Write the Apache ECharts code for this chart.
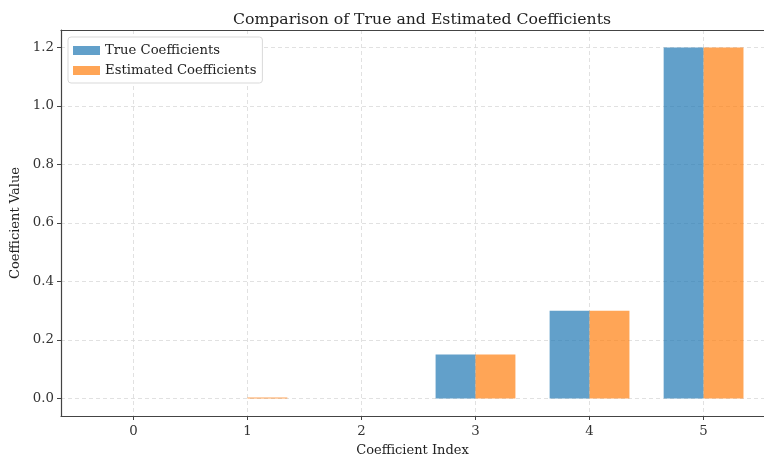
<!DOCTYPE html>
<html><head><meta charset="utf-8">
<script src="https://cdn.jsdelivr.net/npm/echarts@6/dist/echarts.min.js"></script>
<style>html,body{margin:0;padding:0;background:#fff}#c{width:764px;height:457px}</style>
</head><body><div id="c"></div>
<script>
const indices = [0, 1, 2, 3, 4, 5];
const trueCoefs = [0, 0, 0, 0.15, 0.3, 1.2];
const estCoefs = [0, 0.003, 0, 0.15, 0.3, 1.2];
const yTicks = [0, 0.2, 0.4, 0.6, 0.8, 1.0, 1.2];
const xTicks = [0, 1, 2, 3, 4, 5];

const FONT = 'DejaVu Serif';
const BW = 0.35;
function mk(name, vals, color, o0, o1) {
  return {
    name, type: 'custom',
    itemStyle: { color },
    data: indices.map((x, i) => [x, vals[i]]),
    renderItem(params, api) {
      const x = api.value(0), y = api.value(1);
      if (y === 0) return null;
      const a = api.coord([x + o0, 0]);
      const b = api.coord([x + o1, y]);
      return { type: 'rect',
        shape: { x: a[0], y: Math.min(a[1], b[1]), width: b[0] - a[0], height: Math.abs(b[1] - a[1]) },
        style: { fill: api.visual('color') } };
    }
  };
}
const chart = echarts.init(document.getElementById('c'));
const lineStyle = { color: '#444', width: 1.2 };
const split = { show: true, lineStyle: { color: '#d9d9d9', type: [4, 3], width: 0.8 } };
chart.setOption({
  animation: false,
  title: { text: 'Comparison of True and Estimated Coefficients', left: 417, textAlign: 'center', top: 7,
    textStyle: { fontFamily: FONT, fontSize: 15.7, fontWeight: 'normal', color: '#222' } },
  grid: { left: 61, top: 30, right: 0, bottom: 41, containLabel: false, outerBoundsMode: 'none' },
  legend: { orient: 'vertical', left: 68, top: 37, itemWidth: 27, itemHeight: 9, itemGap: 7,
    padding: [7, 6, 6, 5], backgroundColor: '#fff', borderColor: '#d9d9d9', borderWidth: 1, borderRadius: 3,
    textStyle: { fontFamily: FONT, fontSize: 13.2, color: '#222' },
    data: [{ name: 'True Coefficients', icon: 'rect' }, { name: 'Estimated Coefficients', icon: 'rect' }] },
  xAxis: [{ type: 'value', min: -0.635, max: 5.53,
    name: 'Coefficient Index', nameLocation: 'middle', nameGap: 28,
    nameTextStyle: { fontFamily: FONT, fontSize: 13, color: '#222' },
    axisLine: { show: true, onZero: false, lineStyle },
    splitLine: split,
    axisLabel: { customValues: xTicks, fontFamily: FONT, fontSize: 13.3, color: '#333', margin: 9 },
    axisTick: { show: true, length: 4, customValues: xTicks, lineStyle: { color: '#444' } } },
   { type: 'value', position: 'top', min: -0.635, max: 5.53,
    axisLine: { show: true, onZero: false, lineStyle },
    axisTick: { show: false }, axisLabel: { show: false }, splitLine: { show: false } }],
  yAxis: { type: 'value', min: -0.06, max: 1.26,
    name: 'Coefficient Value', nameLocation: 'middle', nameGap: 33,
    nameTextStyle: { fontFamily: FONT, fontSize: 13, color: '#222' },
    axisLine: { show: true, onZero: false, lineStyle },
    splitLine: split,
    axisLabel: { customValues: yTicks, fontFamily: FONT, fontSize: 13.3, color: '#333', margin: 7,
      formatter: v => v.toFixed(1) },
    axisTick: { show: true, length: 4, customValues: yTicks, lineStyle: { color: '#444' } } },
  series: [
    mk('True Coefficients', trueCoefs, 'rgba(31,119,180,0.7)', -BW, 0),
    mk('Estimated Coefficients', estCoefs, 'rgba(255,127,14,0.7)', 0, BW)
  ]
});
</script></body></html>
